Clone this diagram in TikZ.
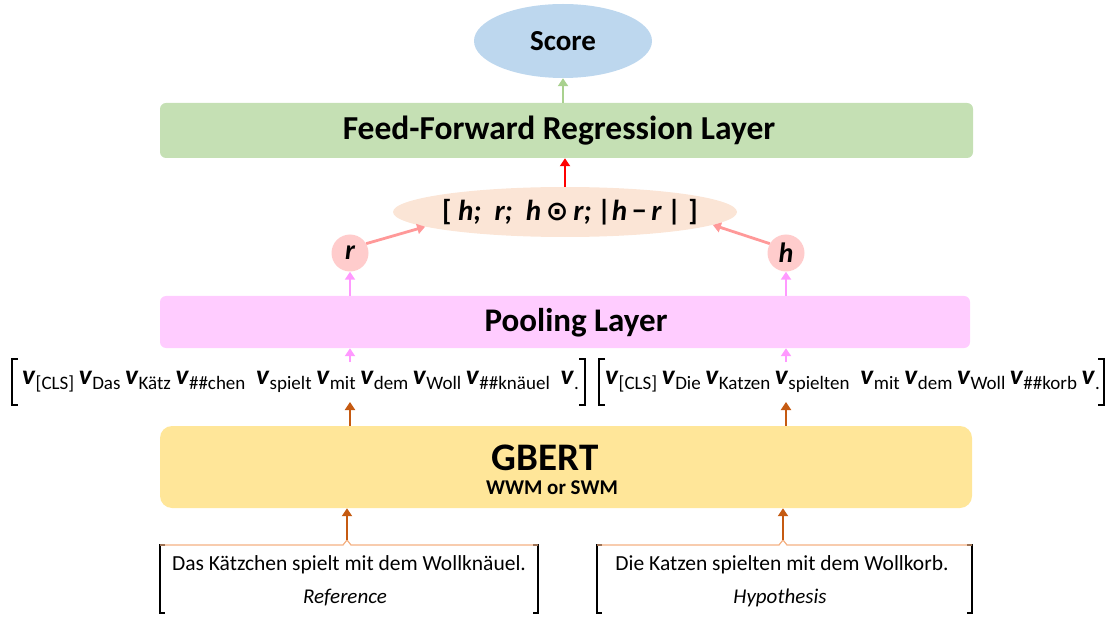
\documentclass[tikz,border=0pt]{standalone}
\usepackage{fontspec}
\setmainfont{Carlito}
\newfontfamily\dejavu{DejaVu Sans}
\usetikzlibrary{shapes.geometric,arrows.meta}
\definecolor{scorec}{HTML}{BDD7EE}
\definecolor{ffc}{HTML}{C5E0B4}
\definecolor{greenarr}{HTML}{A9D18E}
\definecolor{catc}{HTML}{FBE5D6}
\definecolor{circc}{HTML}{FFCCCC}
\definecolor{salmon}{HTML}{FF9999}
\definecolor{poolc}{HTML}{FFCCFF}
\definecolor{pinkarr}{HTML}{FF99FF}
\definecolor{gbertc}{HTML}{FFE699}
\definecolor{brown}{HTML}{C55A11}
\definecolor{orangel}{HTML}{F4B183}
\newcommand\vtok[1]{\textbf{\textit{v}}\raisebox{-0.33ex}{\fontsize{19}{20}\selectfont #1}}
\tikzset{
  arr/.style={line width=2.8pt,-{Triangle[width=10pt,length=8pt]}},
  layerbox/.style={rectangle,inner sep=0pt,font=\bfseries},
  brk/.style={line width=1.5pt,black},
  sent/.style={inner sep=0pt,font=\fontsize{21.5}{24}\selectfont},
}
\begin{document}
\begin{tikzpicture}[x=1pt,y=-1pt]
\useasboundingbox (0,0) rectangle (1110,617);
% Score
\node[ellipse,fill=scorec,minimum width=178pt,minimum height=74pt,inner sep=0pt,font=\bfseries\fontsize{29}{32}\selectfont] (score) at (563,41) {Score};
% Feed forward
\node[layerbox,fill=ffc,rounded corners=6pt,minimum width=813pt,minimum height=55pt] (ff) at (566.5,130.5) {};
\node[inner sep=0pt,font=\bfseries\fontsize{33.5}{36}\selectfont] (fftext) at (559,131) {Feed-Forward Regression Layer};
\draw[arr,greenarr] (ff.north -| score.south) -- (score.south);
% concat
\node[ellipse,fill=catc,minimum width=344pt,minimum height=50pt,inner sep=0pt] (cat) at (565,212) {};
\node[inner sep=0pt,font=\bfseries\itshape\fontsize{29}{32}\selectfont] (cattext) at (570,212) {{\upshape[}\ h;\ \ r;\ \ h\,{\dejavu\upshape\fontsize{27}{30}\selectfont ⊙}\,r;\ |h\,{\upshape −}\,r\ |\ {\upshape]}};
\draw[arr,red] (cat.north) -- (ff.south -| cat.north);
% circles
\node[circle,fill=circc,minimum size=37pt,inner sep=0pt,font=\bfseries\itshape\fontsize{28}{30}\selectfont] (r) at (350,253) {r};
\node[circle,fill=circc,minimum size=37pt,inner sep=0pt,font=\bfseries\itshape\fontsize{28}{30}\selectfont] (h) at (786,253) {h};
\draw[line width=2.8pt,salmon,-{Triangle[width=10pt,length=8pt]}] (r.30) -- (cat.186);
\draw[line width=2.8pt,salmon,-{Triangle[width=10pt,length=8pt]}] (h.150) -- (cat.-5);
% pooling
\node[layerbox,fill=poolc,rounded corners=6pt,minimum width=810pt,minimum height=52pt] (pool) at (565,322) {};
\node[inner sep=0pt,font=\bfseries\fontsize{33}{36}\selectfont] (pooltext) at (576,323) {Pooling Layer};
\draw[arr,pinkarr] (pool.north -| r.south) -- (r.south);
\draw[arr,pinkarr] (pool.north -| h.south) -- (h.south);
% vector rows
\node[inner sep=0pt,anchor=west,font=\fontsize{27.5}{30}\selectfont] (vecL) at (22,382) {\vtok{[CLS]}\,\vtok{Das}\,\vtok{Kätz}\,\vtok{\#\#chen}\,\ \vtok{spielt}\,\vtok{mit}\,\vtok{dem}\,\vtok{Woll}\,\vtok{\#\#knäuel}\,\ \vtok{.}};
\node[inner sep=0pt,anchor=west,font=\fontsize{27.5}{30}\selectfont] (vecR) at (605,382) {\vtok{[CLS]}\,\vtok{Die}\,\vtok{Katzen}\,\vtok{spielten}\,\ \vtok{mit}\,\vtok{dem}\,\vtok{Woll}\,\vtok{\#\#korb}\,\vtok{.}};
\coordinate (lbl) at (12,359); \coordinate (lbr) at (585,359);
\coordinate (rbl) at (599,359); \coordinate (rbr) at (1104,359);
\draw[brk] ([xshift=6pt]lbl) -- (lbl) -- ++(0,46) -- ++(6,0);
\draw[brk] ([xshift=-6pt]lbr) -- (lbr) -- ++(0,46) -- ++(-6,0);
\draw[brk] ([xshift=6pt]rbl) -- (rbl) -- ++(0,46) -- ++(6,0);
\draw[brk] ([xshift=-6pt]rbr) -- (rbr) -- ++(0,46) -- ++(-6,0);
\coordinate (vLtop) at (350,362); \coordinate (vRtop) at (786,362);
\coordinate (vLbot) at (350,402); \coordinate (vRbot) at (786,402);
\draw[arr,pinkarr] (vLtop) -- (pool.south -| vLtop);
\draw[arr,pinkarr] (vRtop) -- (pool.south -| vRtop);
% GBERT
\node[layerbox,fill=gbertc,rounded corners=12pt,minimum width=812pt,minimum height=82pt] (gbert) at (566,467) {};
\node[inner sep=0pt,font=\bfseries\fontsize{39}{42}\selectfont] (gberttext) at (545,458) {GBERT};
\node[inner sep=0pt,font=\bfseries\fontsize{21}{24}\selectfont] (gbertsub) at (552,488) {WWM or SWM};
\draw[arr,brown] (gbert.north -| vLbot) -- (vLbot);
\draw[arr,brown] (gbert.north -| vRbot) -- (vRbot);
% sentence boxes
\node[sent] (refsent) at (349,565) {Das Kätzchen spielt mit dem Wollknäuel.};
\node[sent,font=\itshape\fontsize{21}{24}\selectfont] (reflab) at (345,598) {Reference};
\node[sent] (hypsent) at (782,565) {Die Katzen spielten mit dem Wollkorb.};
\node[sent,font=\itshape\fontsize{21}{24}\selectfont] (hyplab) at (780,598) {Hypothesis};
\coordinate (rA) at (160,545); \coordinate (rB) at (538,545); \coordinate (rN) at (347,540);
\coordinate (hA) at (597,545); \coordinate (hB) at (972,545); \coordinate (hN) at (783,540);
\draw[brk] ([xshift=5pt]rA) -- (rA) -- ++(0,68) -- ++(5,0);
\draw[brk] ([xshift=-5pt]rB) -- (rB) -- ++(0,68) -- ++(-5,0);
\draw[brk] ([xshift=5pt]hA) -- (hA) -- ++(0,68) -- ++(5,0);
\draw[brk] ([xshift=-5pt]hB) -- (hB) -- ++(0,68) -- ++(-5,0);
\draw[orangel,line width=1.2pt] (rA) -- ([xshift=-4pt]rA -| rN) -- (rN) -- ([xshift=4pt]rA -| rN) -- (rB);
\draw[orangel,line width=1.2pt] (hA) -- ([xshift=-4pt]hA -| hN) -- (hN) -- ([xshift=4pt]hA -| hN) -- (hB);
\draw[arr,brown] (rN) -- (gbert.south -| rN);
\draw[arr,brown] (hN) -- (gbert.south -| hN);
\end{tikzpicture}
\end{document}
